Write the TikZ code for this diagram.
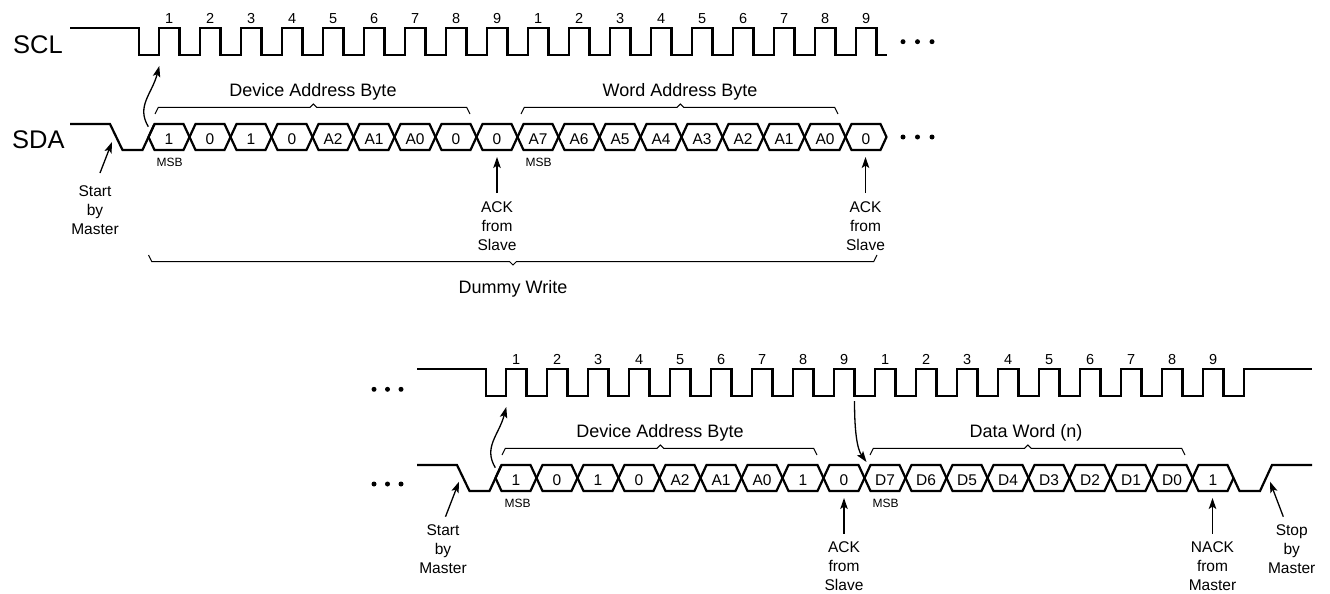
\documentclass[tikz,border=0pt]{standalone}
\usepackage{fontspec}
\setmainfont{Liberation Sans}
\usetikzlibrary{arrows.meta}
\begin{document}
\begin{tikzpicture}[x=1pt,y=-1pt,
  wave/.style={line width=2.2pt, line join=miter},
  brc/.style={line width=1pt, line join=miter},
  arr/.style={line width=1.3pt, -{Stealth[length=11pt,width=7.5pt,inset=2.5pt]}},
  cell/.style={font=\fontsize{15.5}{18}\selectfont, inner sep=0pt, anchor=base},
  num/.style={font=\fontsize{14.5}{17}\selectfont, inner sep=0pt, anchor=base},
  msb/.style={font=\fontsize{12}{14}\selectfont, inner sep=0pt, anchor=base west},
  blbl/.style={font=\fontsize{18}{21}\selectfont, inner sep=0pt, anchor=base},
  note/.style={font=\fontsize{15.5}{19.2}\selectfont, inner sep=0pt, anchor=north, align=center},
  sig/.style={font=\fontsize{25.5}{30}\selectfont, inner sep=0pt, anchor=base west},
  dot/.style={circle, fill, inner sep=0pt, minimum size=5pt}
]
\useasboundingbox (0,0) rectangle (1330,594);
\fill[white] (0,0) rectangle (1330,594);

% ---------------- TOP ----------------
\node[sig] (sclL) at (13,53.3) {SCL};
\node[sig] (sdaL) at (12,148.3) {SDA};

\draw[wave] (70,28.3) -- (139,28.3) -- (139,55)
  \foreach \k in {0,...,17}{ -- ({159+41*\k},55) -- ({159+41*\k},28.3) -- ({179.5+41*\k},28.3) -- ({179.5+41*\k},55) }
  -- (887,55);

\draw[wave] (70,124) -- (110,124) -- (122.5,150) -- (142.5,150) -- (154.5,124);
\foreach \k in {0,...,17}
  \draw[wave] ({148.5+41*\k},137) -- ({154.5+41*\k},124) -- ({183.5+41*\k},124) -- ({189.5+41*\k},137) -- ({183.5+41*\k},150) -- ({154.5+41*\k},150) -- cycle;

\foreach \n [count=\k from 0] in {1,2,3,4,5,6,7,8,9,1,2,3,4,5,6,7,8,9}
  \node[num] (tn\k) at ({169.25+41*\k},23.5) {\n};
\foreach \t [count=\k from 0] in {1,0,1,0,A2,A1,A0,0,0,A7,A6,A5,A4,A3,A2,A1,A0,0}
  \node[cell] (tc\k) at ({169+41*\k},144) {\t};

\node[msb] (tmsb1) at (156.5,166.7) {MSB};
\node[msb] (tmsb2) at (525.5,166.7) {MSB};

\draw[brc] (155,114) -- (158.3,107.3) -- (310,107.3) -- (313.3,104) -- (316.6,107.3) -- (466.7,107.3) -- (470,114);
\node[blbl] (tdab) at (313,96.7) {Device Address Byte};
\draw[brc] (521,114) -- (524.3,107.3) -- (677,107.3) -- (680.3,104) -- (683.6,107.3) -- (834.7,107.3) -- (838,114);
\node[blbl] (twab) at (680,96.7) {Word Address Byte};

\node[dot] (tdot1) at (903,41.7) {};
\node[dot] (tdot2) at (917.5,41.7) {};
\node[dot] (tdot3) at (932,41.7) {};
\node[dot] (tdot4) at (903,137) {};
\node[dot] (tdot5) at (917.5,137) {};
\node[dot] (tdot6) at (932,137) {};

\coordinate (tcurA) at (148.3,126.7);
\coordinate (tcurB) at (159.3,66);
\draw[arr] (tcurA) .. controls (136,106) and (152,94) .. (tcurB);

\node[note] (tstart) at (95,185) {Start\\by\\Master};
\coordinate (tstA) at (100,173);
\coordinate (tstB) at (112,142);
\draw[arr] (tstA) -- (tstB);

\node[note] (tack1) at (497,201) {ACK\\from\\Slave};
\coordinate (tack1t) at (497,157);
\draw[arr] ([yshift=8pt]tack1.north) -- (tack1t);
\node[note] (tack2) at (865.5,201) {ACK\\from\\Slave};
\coordinate (tack2t) at (865.5,157);
\draw[arr] ([yshift=8pt]tack2.north) -- (tack2t);

\draw[brc] (148.5,255) -- (151.8,261.7) -- (509.7,261.7) -- (513,265) -- (516.3,261.7) -- (873.7,261.7) -- (877,255);
\node[blbl] (dummy) at (513,293.3) {Dummy Write};

% ---------------- BOTTOM ----------------
\node[dot] (bdot1) at (374,389.3) {};
\node[dot] (bdot2) at (387.5,389.3) {};
\node[dot] (bdot3) at (401,389.3) {};
\node[dot] (bdot4) at (374,484) {};
\node[dot] (bdot5) at (387.5,484) {};
\node[dot] (bdot6) at (401,484) {};

\begin{scope}[shift={(347,341)}]
\draw[wave] (70,28.3) -- (139,28.3) -- (139,55)
  \foreach \k in {0,...,17}{ -- ({159+41*\k},55) -- ({159+41*\k},28.3) -- ({179.5+41*\k},28.3) -- ({179.5+41*\k},55) }
  -- (897,55) -- (897,28.3) -- (965,28.3);

\draw[wave] (70,124) -- (110,124) -- (122.5,150) -- (142.5,150) -- (154.5,124);
\foreach \k in {0,...,17}
  \draw[wave] ({148.5+41*\k},137) -- ({154.5+41*\k},124) -- ({183.5+41*\k},124) -- ({189.5+41*\k},137) -- ({183.5+41*\k},150) -- ({154.5+41*\k},150) -- cycle;
\draw[wave] (886.5,137) -- (892.5,150) -- (913,150) -- (925,124) -- (965,124);

\foreach \n [count=\k from 0] in {1,2,3,4,5,6,7,8,9,1,2,3,4,5,6,7,8,9}
  \node[num] (bn\k) at ({169.25+41*\k},23.5) {\n};
\foreach \t [count=\k from 0] in {1,0,1,0,A2,A1,A0,1,0,D7,D6,D5,D4,D3,D2,D1,D0,1}
  \node[cell] (bc\k) at ({169+41*\k},144) {\t};

\node[msb] (bmsb1) at (157.5,166.7) {MSB};
\node[msb] (bmsb2) at (525.5,166.7) {MSB};

\draw[brc] (155,114) -- (158.3,107.3) -- (310,107.3) -- (313.3,104) -- (316.6,107.3) -- (466.7,107.3) -- (470,114);
\node[blbl] (bdab) at (313,96.5) {Device Address Byte};
\draw[brc] (523,114) -- (526.3,107.3) -- (677.5,107.3) -- (680.8,104) -- (684.1,107.3) -- (834.7,107.3) -- (838,114);
\node[blbl] (bdw) at (679,96.5) {Data Word (n)};

\coordinate (bcurA) at (148.3,126.7);
\coordinate (bcurB) at (159.3,66);
\draw[arr] (bcurA) .. controls (136,106) and (152,94) .. (bcurB);

\coordinate (bcur2A) at (507.5,60);
\coordinate (bcur2B) at (519.5,121);
\draw[arr] (bcur2A) .. controls (507.5,90) and (510,108) .. (bcur2B);

\node[note] (bstart) at (96,183) {Start\\by\\Master};
\coordinate (bstA) at (98.5,175.7);
\coordinate (bstB) at (112,140.7);
\draw[arr] (bstA) -- (bstB);

\node[note] (back) at (497,200.5) {ACK\\from\\Slave};
\coordinate (backt) at (497,157);
\draw[arr] ([yshift=8pt]back.north) -- (backt);
\node[note] (bnack) at (865.5,200.5) {NACK\\from\\Master};
\coordinate (bnackt) at (865.5,157);
\draw[arr] ([yshift=8pt]bnack.north) -- (bnackt);

\node[note] (bstop) at (944.7,183.5) {Stop\\by\\Master};
\coordinate (bspA) at (936.3,175.7);
\coordinate (bspB) at (923,140.7);
\draw[arr] (bspA) -- (bspB);
\end{scope}
\end{tikzpicture}
\end{document}
